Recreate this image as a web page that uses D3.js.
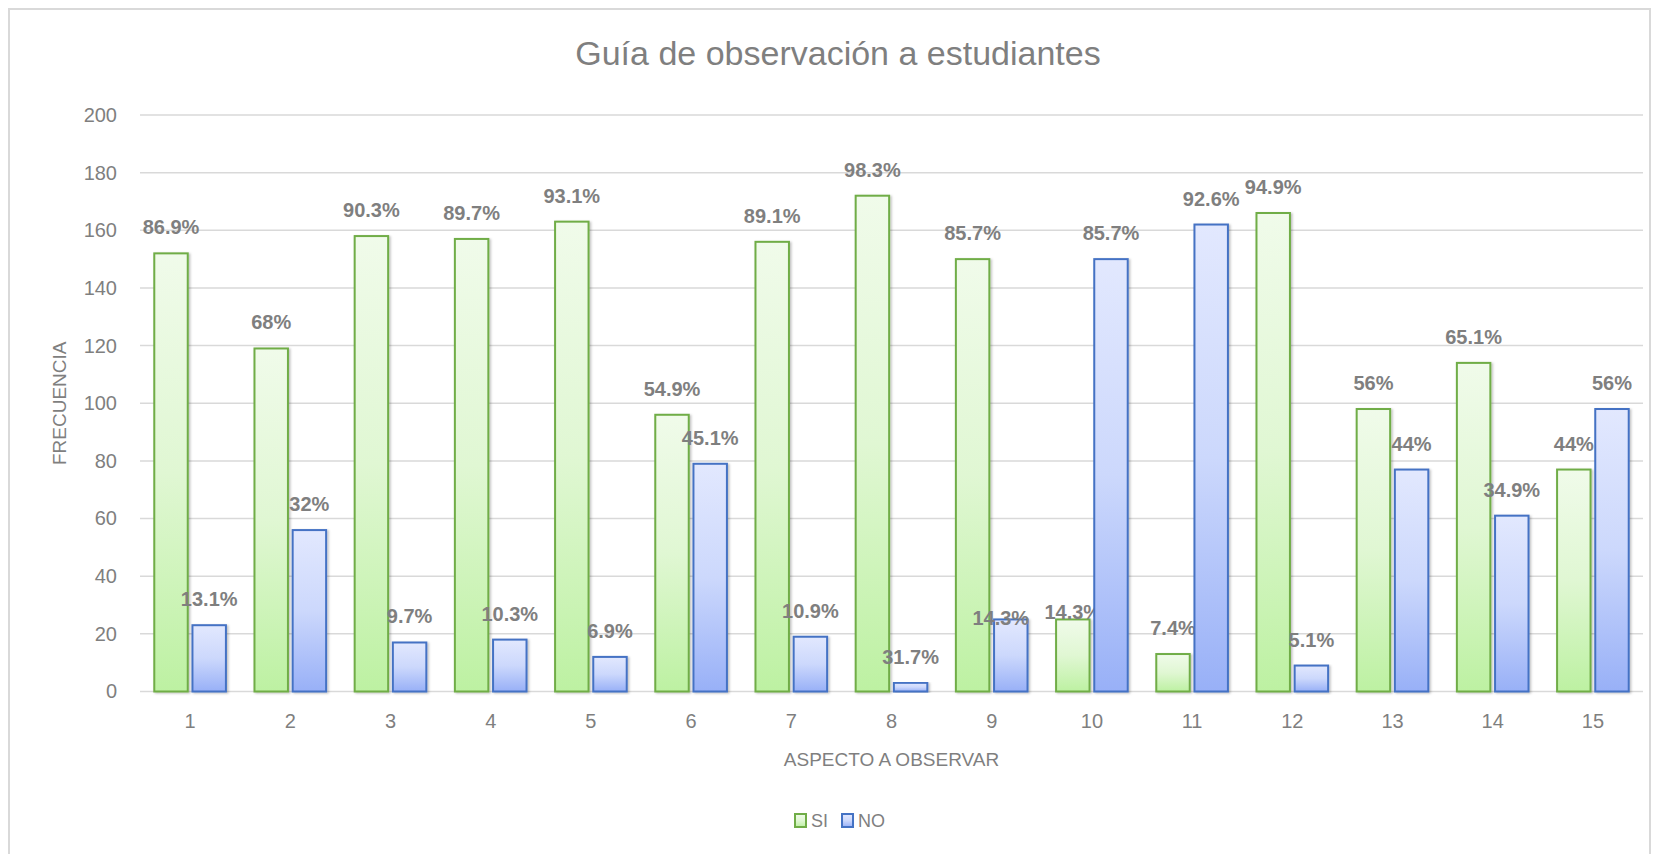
<!DOCTYPE html>
<html>
<head>
<meta charset="utf-8">
<script src="https://cdn.jsdelivr.net/npm/d3@7"></script>
<style>
	body { margin: 0; background: #fff; }
	svg text { font-family: "Liberation Sans", Arial, sans-serif; }
</style>
</head>
<body>
<div id="chart"></div>
<script>
const aspects = ["1","2","3","4","5","6","7","8","9","10","11","12","13","14","15"]
const siValues = [152,119,158,157,163,96,156,172,150,25,13,166,98,114,77]
const noValues = [23,56,17,18,12,79,19,3,25,150,162,9,77,61,98]
const siLabels = ["86.9%","68%","90.3%","89.7%","93.1%","54.9%","89.1%","98.3%","85.7%","14.3%","7.4%","94.9%","56%","65.1%","44%"]
const noLabels = ["13.1%","32%","9.7%","10.3%","6.9%","45.1%","10.9%","31.7%","14.3%","85.7%","92.6%","5.1%","44%","34.9%","56%"]
const yTicks = [0,20,40,60,80,100,120,140,160,180,200]

let fullWidth = 1653, fullHeight = 854
let plot = {left:140, right:1643, top:115, bottom:691.5}

let svg = d3.select("#chart")
	.append("svg")
	.attr("width",fullWidth)
	.attr("height",fullHeight)

let defs = svg.append("defs")
let gradient = (id,stops)=>{
	let g = defs.append("linearGradient").attr("id",id).attr("x1",0).attr("y1",0).attr("x2",0).attr("y2",1)
	stops.forEach(([o,c])=>g.append("stop").attr("offset",o).attr("stop-color",c))
}
gradient("gSi",[[0,"#f0fbea"],[0.5,"#e0f7d3"],[1,"#bdf1a2"]])
gradient("gNo",[[0,"#e2e8fe"],[0.5,"#ccd8fc"],[1,"#98b0f7"]])
defs.append("filter").attr("id","shadow").attr("x","-20%").attr("y","-5%").attr("width","150%").attr("height","115%")
	.append("feDropShadow").attr("dx",1.5).attr("dy",1).attr("stdDeviation",1.2).attr("flood-color","#000").attr("flood-opacity",0.25)

// chart frame
svg.append("rect")
	.attr("x",9).attr("y",9)
	.attr("width",1641).attr("height",880)
	.attr("fill","none").attr("stroke","#d9d9d9").attr("stroke-width",2)

let xScale = d3.scaleBand().domain(aspects).range([plot.left,plot.right])
let yScale = d3.scaleLinear().domain([0,200]).range([plot.bottom,plot.top])
let band = xScale.bandwidth()
let barWidth = band*0.334
let barGap = band*0.047
let pad = (band - 2*barWidth - barGap)/2

svg.append("g")
	.selectAll("line")
	.data(yTicks)
	.join("line")
	.attr("x1",plot.left).attr("x2",plot.right)
	.attr("y1",d=>yScale(d)).attr("y2",d=>yScale(d))
	.attr("stroke","#d9d9d9").attr("stroke-width",1.5)

let yAxis = svg.append("g")
	.attr("transform",`translate(${plot.left-23},0)`)
	.call(d3.axisLeft(yScale).tickValues(yTicks).tickSize(0).tickPadding(0))
yAxis.select(".domain").remove()
yAxis.selectAll("text").attr("font-size",20).attr("fill","#7f7f7f").attr("font-family","Liberation Sans, Arial, sans-serif")

let xAxis = svg.append("g")
	.attr("transform",`translate(0,${plot.bottom})`)
	.call(d3.axisBottom(xScale).tickSize(0).tickPadding(22))
xAxis.select(".domain").remove()
xAxis.selectAll("text").attr("font-size",20).attr("fill","#7f7f7f").attr("font-family","Liberation Sans, Arial, sans-serif")

let series = [
	{key:"SI", values:siValues, labels:siLabels, offset:pad, fill:"url(#gSi)", stroke:"#70ad47"},
	{key:"NO", values:noValues, labels:noLabels, offset:pad+barWidth+barGap, fill:"url(#gNo)", stroke:"#4472c4"}
]

// labels that were dragged by hand in the original
let labelNudge = {"SI-9":{dx:0,dy:19}, "NO-8":{dx:-10,dy:25}}

series.forEach(s=>{
	let rows = aspects.map((a,i)=>({aspect:a, value:s.values[i], label:s.labels[i], i:i}))
	svg.append("g")
		.selectAll("rect")
		.data(rows)
		.join("rect")
		.attr("x",d=>xScale(d.aspect)+s.offset)
		.attr("y",d=>yScale(d.value))
		.attr("width",barWidth)
		.attr("height",d=>yScale(0)-yScale(d.value))
		.attr("fill",s.fill)
		.attr("stroke",s.stroke)
		.attr("stroke-width",2)
		.attr("filter","url(#shadow)")

	svg.append("g")
		.selectAll("text")
		.data(rows)
		.join("text")
		.attr("x",d=>xScale(d.aspect)+s.offset+barWidth/2+((labelNudge[`${s.key}-${d.i}`]||{}).dx||0))
		.attr("y",d=>yScale(d.value)-19+((labelNudge[`${s.key}-${d.i}`]||{}).dy||0))
		.attr("text-anchor","middle")
		.attr("font-size",20)
		.attr("font-weight","bold")
		.attr("fill","#7f7f7f")
		.text(d=>d.label)
})

svg.append("text")
	.attr("x",838).attr("y",65)
	.attr("text-anchor","middle")
	.attr("font-size",34)
	.attr("fill","#7f7f7f")
	.text("Guía de observación a estudiantes")

svg.append("text")
	.attr("transform",`translate(66,${(plot.top+plot.bottom)/2}) rotate(-90)`)
	.attr("text-anchor","middle")
	.attr("font-size",19)
	.attr("fill","#7f7f7f")
	.text("FRECUENCIA")

svg.append("text")
	.attr("x",(plot.left+plot.right)/2).attr("y",766)
	.attr("text-anchor","middle")
	.attr("font-size",19)
	.attr("fill","#7f7f7f")
	.text("ASPECTO A OBSERVAR")

let legend = svg.append("g").attr("transform","translate(794,813)")
let lx = 0
series.forEach(s=>{
	let item = legend.append("g").attr("transform",`translate(${lx},0)`)
	item.append("rect")
		.attr("x",1).attr("y",1).attr("width",11).attr("height",13)
		.attr("fill",s.fill).attr("stroke",s.stroke).attr("stroke-width",2)
	let t = item.append("text")
		.attr("x",17).attr("y",13.5)
		.attr("font-size",18)
		.attr("fill","#7f7f7f")
		.text(s.key)
	lx += 17 + t.node().getComputedTextLength() + 13
})
</script>
</body>
</html>
